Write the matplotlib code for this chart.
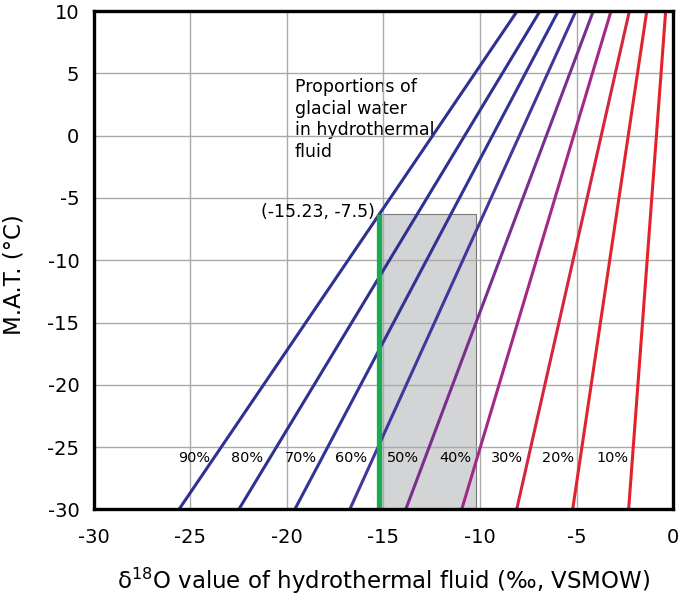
import matplotlib
matplotlib.use("Agg")
import matplotlib.pyplot as plt
from matplotlib.patches import Rectangle

plt.rcParams['font.family'] = ['DejaVu Sans']

# Mixing lines: proportion of glacial water, d18O at MAT = -30 and MAT = 10
proportions = ["90%", "80%", "70%", "60%", "50%", "40%", "30%", "20%", "10%"]
x_at_bottom = [-25.6, -22.5, -19.6, -16.75, -13.85, -10.95, -8.1, -5.2, -2.3]
x_at_top = [-8.07, -6.89, -5.94, -5.03, -4.13, -3.21, -2.26, -1.36, -0.38]
mat_range = [-30, 10]
line_colors = ["#2e3192", "#2e3192", "#323394", "#45379a", "#7b2d90",
               "#a32a84", "#d6263f", "#e0242e", "#e4202a"]

# Label positions for percentages
label_x = [-24.8, -22.05, -19.3, -16.7, -14.0, -11.3, -8.6, -5.95, -3.15]
label_y = -25.83

# Highlighted point / range
point_x = -15.23
point_label = "(-15.23, -7.5)"
rect_right = -10.2
rect_top = -6.3

xticks = [-30, -25, -20, -15, -10, -5, 0]
yticks = [-30, -25, -20, -15, -10, -5, 0, 5, 10]

fig = plt.figure(figsize=(6.85, 5.98), dpi=100)
ax = fig.add_axes([0.1372, 0.148, 0.9825 - 0.1372, 0.9816 - 0.148])

ax.set_xlim(-30, 0)
ax.set_ylim(-30, 10)
ax.set_xticks(xticks)
ax.set_yticks(yticks)
ax.set_xticklabels([str(v) for v in xticks])
ax.set_yticklabels([str(v) for v in yticks])
ax.tick_params(length=0, labelsize=14)
ax.tick_params(axis='x', pad=13)
ax.tick_params(axis='y', pad=10.5)
ax.grid(True, color="#aaaaaa", linewidth=1.0, zorder=1)
ax.set_axisbelow(False)

for sp in ax.spines.values():
    sp.set_linewidth(2.4)
    sp.set_zorder(10)

ax.add_patch(Rectangle((point_x, mat_range[0]), rect_right - point_x,
                       rect_top - mat_range[0], facecolor="#d3d4d6",
                       edgecolor="#777777", linewidth=0.8, zorder=0.5))

for xb, xt, c in zip(x_at_bottom, x_at_top, line_colors):
    ax.plot([xb, xt], mat_range, color=c, linewidth=2.2, zorder=3,
            solid_capstyle="butt", clip_on=True)

ax.plot([point_x, point_x], [mat_range[0], rect_top], color="#1aaa50",
        linewidth=3.8, zorder=4, solid_capstyle="butt")

for lx, lab in zip(label_x, proportions):
    ax.text(lx, label_y, lab, ha="center", va="center", fontsize=10.4,
            zorder=5)

ax.text(-15.44, -6.09, point_label, ha="right",
        va="center", fontsize=12.4, zorder=5)

ax.text(-19.59, 4.63, "Proportions of\nglacial water\nin hydrothermal\nfluid",
        ha="left", va="top", fontsize=12.5, linespacing=1.27, zorder=2,
        bbox=dict(facecolor="white", edgecolor="none", pad=3))

ax.set_xlabel("δ$^{18}$O value of hydrothermal fluid (‰, VSMOW)",
              fontsize=16.5, labelpad=14)
ax.set_ylabel("M.A.T. (°C)", fontsize=16.5)
ax.yaxis.set_label_coords(-0.119, 0.471)

fig.savefig("out.png", dpi=100)
